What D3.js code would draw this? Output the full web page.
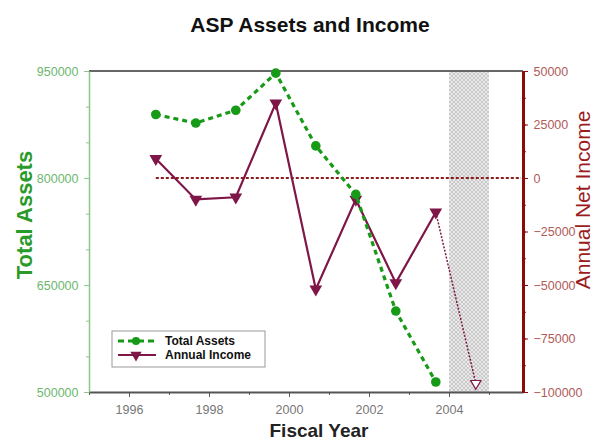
<!DOCTYPE html>
<html>
<head>
<meta charset="utf-8">
<script src="https://cdn.jsdelivr.net/npm/d3@7"></script>
<style>
  body { margin: 0; background: #fff; }
  svg { font-family: "Liberation Sans", Arial, sans-serif; }
</style>
</head>
<body>
<svg width="593" height="440"></svg>
<script>
// fiscal year points (year ends in autumn)
var years = [1996.67, 1997.67, 1998.67, 1999.67, 2000.67, 2001.67, 2002.67, 2003.67, 2004.67];
var assets = [889000, 877000, 895000, 947000, 845000, 777000, 613500, 514000];
var income = [9000, -10000, -9000, 35000, -52000, -10000, -49000, -16000, -96000];
var xTicks = [1996, 1998, 2000, 2002, 2004];
var leftTicks = [500000, 650000, 800000, 950000];
var rightTicks = [-100000, -75000, -50000, -25000, 0, 25000, 50000];
var projected = [2004, 2005];

var svg = d3.select("svg");
var plotL = 89, plotR = 523, plotT = 71, plotB = 392;

var x = d3.scaleLinear().domain([1995, 2005.85]).range([plotL, plotR]);
var yL = d3.scaleLinear().domain([500000, 950000]).range([plotB, plotT]);
var yR = d3.scaleLinear().domain([-100000, 50000]).range([plotB, plotT]);

var green = "#179a17";
var maroon = "#7e1648";

// hatch pattern for projected year
var defs = svg.append("defs");
var pat = defs.append("pattern")
  .attr("id", "hatch")
  .attr("width", 4).attr("height", 4)
  .attr("patternUnits", "userSpaceOnUse");
pat.append("rect").attr("width", 4).attr("height", 4).attr("fill", "#e9e9e9");
pat.append("path").attr("d", "M0,0L4,4M4,0L0,4").attr("stroke", "#bcbcbc").attr("stroke-width", 0.7);

svg.append("rect")
  .attr("x", x(projected[0]))
  .attr("y", plotT)
  .attr("width", x(projected[1]) - x(projected[0]))
  .attr("height", plotB - plotT)
  .attr("fill", "url(#hatch)");

// title
svg.append("text")
  .attr("x", 310).attr("y", 32)
  .attr("text-anchor", "middle")
  .attr("font-size", 21).attr("font-weight", "bold")
  .attr("fill", "#111")
  .text("ASP Assets and Income");

// top border
svg.append("line")
  .attr("x1", plotL).attr("x2", plotR).attr("y1", plotT).attr("y2", plotT)
  .attr("stroke", "#666").attr("stroke-width", 2);

// bottom axis
var xAxis = svg.append("g")
  .attr("transform", "translate(0," + plotB + ")")
  .call(d3.axisBottom(x).tickValues(xTicks).tickFormat(d3.format("d")).tickSize(5).tickSizeOuter(0));
xAxis.select(".domain").attr("stroke", "#555").attr("stroke-width", 2);
xAxis.selectAll(".tick line").attr("stroke", "#555");
xAxis.selectAll(".tick text").attr("fill", "#777").attr("font-size", 12.5).attr("dy", "1.1em");
svg.append("g")
  .attr("transform", "translate(0," + plotB + ")")
  .call(d3.axisBottom(x).tickValues(d3.range(1995, 2006)).tickFormat("").tickSize(3).tickSizeOuter(0))
  .call(g => g.select(".domain").remove())
  .selectAll(".tick line").attr("stroke", "#555");

svg.append("text")
  .attr("x", 319).attr("y", 437)
  .attr("text-anchor", "middle")
  .attr("font-size", 19).attr("font-weight", "bold")
  .attr("fill", "#222")
  .text("Fiscal Year");

// left axis
var lAxis = svg.append("g")
  .attr("transform", "translate(" + plotL + ",0)")
  .call(d3.axisLeft(yL).tickValues(leftTicks).tickFormat(d3.format("d")).tickSize(5).tickSizeOuter(0));
lAxis.select(".domain").attr("stroke", "#8cc68c").attr("stroke-width", 1.5);
lAxis.selectAll(".tick line").attr("stroke", "#8cc68c");
lAxis.selectAll(".tick text").attr("fill", "#6cb86c").attr("font-size", 12.5).attr("dx", "-0.2em");
svg.append("g")
  .attr("transform", "translate(" + plotL + ",0)")
  .call(d3.axisLeft(yL).tickValues(d3.range(500000, 950001, 50000)).tickFormat("").tickSize(3).tickSizeOuter(0))
  .call(g => g.select(".domain").remove())
  .selectAll(".tick line").attr("stroke", "#8cc68c");

svg.append("text")
  .attr("transform", "translate(32,215) rotate(-90)")
  .attr("text-anchor", "middle")
  .attr("font-size", 22).attr("font-weight", "bold")
  .attr("fill", "#2a9a2a")
  .text("Total Assets");

// right axis
var rAxis = svg.append("g")
  .attr("transform", "translate(" + plotR + ",0)")
  .call(d3.axisRight(yR).tickValues(rightTicks).tickFormat(d3.format("d")).tickSize(5).tickSizeOuter(0));
rAxis.select(".domain").attr("stroke", "#8b0a0a").attr("stroke-width", 3);
rAxis.selectAll(".tick line").attr("stroke", "#8b0a0a");
rAxis.selectAll(".tick text").attr("fill", "#b05a5a").attr("font-size", 12.5).attr("dx", "0.2em");
svg.append("g")
  .attr("transform", "translate(" + plotR + ",0)")
  .call(d3.axisRight(yR).tickValues(d3.range(-100000, 50001, 12500)).tickFormat("").tickSize(3).tickSizeOuter(0))
  .call(g => g.select(".domain").remove())
  .selectAll(".tick line").attr("stroke", "#8b0a0a");

svg.append("text")
  .attr("transform", "translate(590,200) rotate(-90)")
  .attr("text-anchor", "middle")
  .attr("font-size", 21)
  .attr("fill", "#9a1c1c")
  .text("Annual Net Income");

// zero line
svg.append("line")
  .attr("x1", x(years[0])).attr("x2", plotR - 2)
  .attr("y1", yR(0)).attr("y2", yR(0))
  .attr("stroke", "#8b1a1a").attr("stroke-width", 2)
  .attr("stroke-dasharray", "3,2");

// income line
var incomePts = years.map((d, i) => [x(d), yR(income[i])]);
var line = d3.line();
svg.append("path")
  .attr("d", line(incomePts.slice(0, 8)))
  .attr("fill", "none").attr("stroke", maroon).attr("stroke-width", 2.2);
svg.append("path")
  .attr("d", line(incomePts.slice(7)))
  .attr("fill", "none").attr("stroke", maroon).attr("stroke-width", 1.5)
  .attr("stroke-dasharray", "2,1.5");

var tri = d3.symbol().type(d3.symbolTriangle).size(70);
svg.selectAll(".inc")
  .data(incomePts.slice(0, 8))
  .enter().append("path")
  .attr("class", "inc")
  .attr("d", tri)
  .attr("transform", d => "translate(" + d[0] + "," + d[1] + ") rotate(180)")
  .attr("fill", maroon);
svg.append("path")
  .attr("d", d3.symbol().type(d3.symbolTriangle).size(45))
  .attr("transform", "translate(" + incomePts[8][0] + "," + incomePts[8][1] + ") rotate(180)")
  .attr("fill", "#fff").attr("stroke", maroon).attr("stroke-width", 1.2);

// assets line
var assetPts = assets.map((d, i) => [x(years[i]), yL(d)]);
svg.append("path")
  .attr("d", line(assetPts))
  .attr("fill", "none").attr("stroke", green).attr("stroke-width", 3.2)
  .attr("stroke-dasharray", "5,4");
svg.selectAll(".ast")
  .data(assetPts)
  .enter().append("circle")
  .attr("class", "ast")
  .attr("cx", d => d[0]).attr("cy", d => d[1])
  .attr("r", 4.8)
  .attr("fill", green);

// legend
var lg = svg.append("g");
lg.append("rect")
  .attr("x", 112).attr("y", 331).attr("width", 153).attr("height", 36)
  .attr("fill", "#fff").attr("stroke", "#999").attr("stroke-width", 1);
lg.append("line").attr("x1", 118).attr("x2", 156).attr("y1", 341).attr("y2", 341)
  .attr("stroke", green).attr("stroke-width", 3).attr("stroke-dasharray", "6,4");
lg.append("circle").attr("cx", 136).attr("cy", 341).attr("r", 4).attr("fill", green);
lg.append("line").attr("x1", 118).attr("x2", 156).attr("y1", 355).attr("y2", 355)
  .attr("stroke", maroon).attr("stroke-width", 2.2);
lg.append("path").attr("d", d3.symbol().type(d3.symbolTriangle).size(55))
  .attr("transform", "translate(136,355) rotate(180)").attr("fill", maroon);
lg.append("text").attr("x", 165).attr("y", 345).attr("font-size", 12).attr("font-weight", "bold")
  .attr("fill", "#111").text("Total Assets");
lg.append("text").attr("x", 165).attr("y", 359).attr("font-size", 12).attr("font-weight", "bold")
  .attr("fill", "#111").text("Annual Income");
</script>
</body>
</html>
